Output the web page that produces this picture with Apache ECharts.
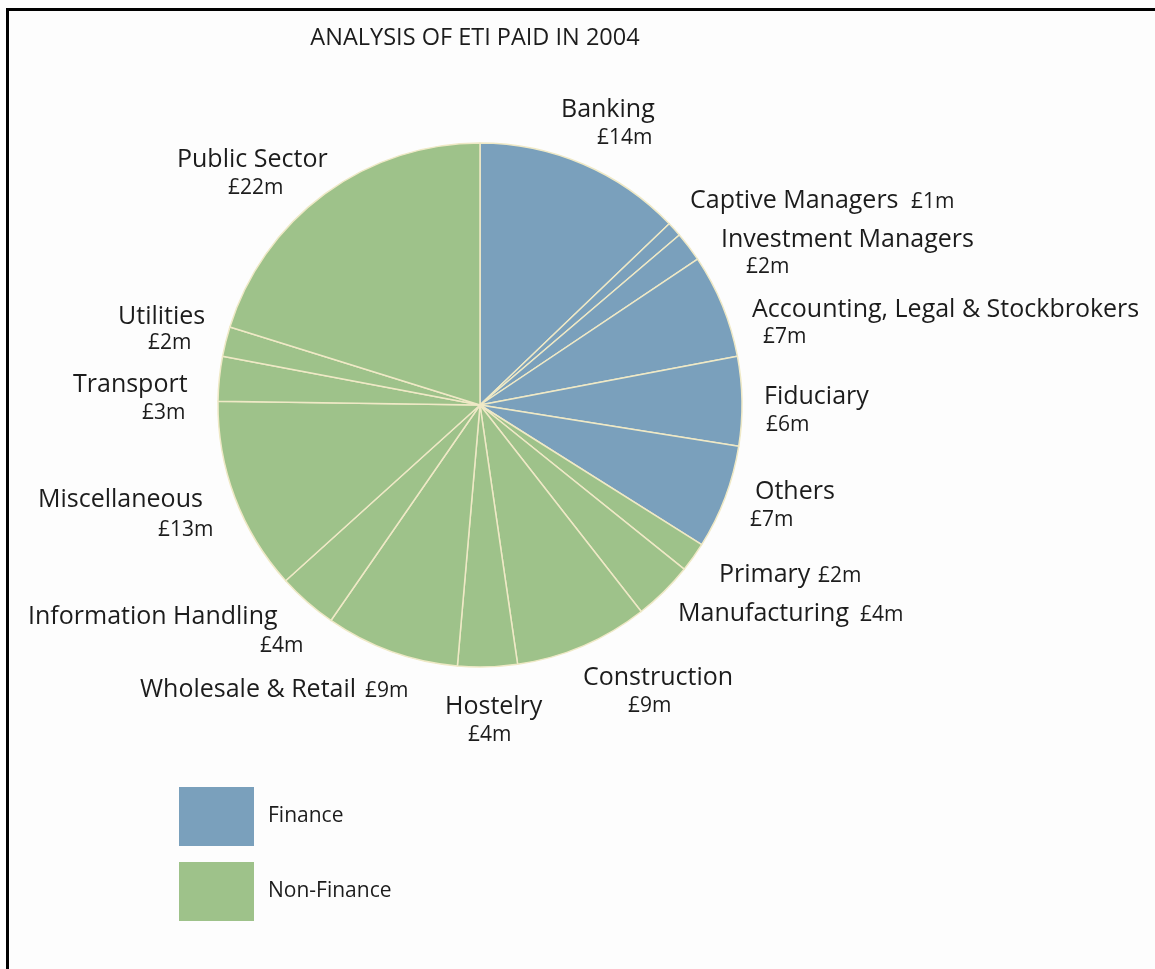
<!DOCTYPE html>
<html>
<head>
<meta charset="utf-8">
<style>
  html, body { margin: 0; padding: 0; background: #fdfdfd; }
  #chart { width: 1155px; height: 969px; }
</style>
<script src="https://cdn.jsdelivr.net/npm/echarts@6/dist/echarts.min.js"></script>
</head>
<body>
<div id="chart"></div>
<script>
// ETI paid in 2004, £ millions, clockwise from 12 o'clock
const sectors = [
  'Banking', 'Captive Managers', 'Investment Managers', 'Accounting, Legal & Stockbrokers',
  'Fiduciary', 'Others', 'Primary', 'Manufacturing', 'Construction', 'Hostelry',
  'Wholesale & Retail', 'Information Handling', 'Miscellaneous', 'Transport',
  'Utilities', 'Public Sector'
];
const amounts = [14, 1, 2, 7, 6, 7, 2, 4, 9, 4, 9, 4, 13, 3, 2, 22];
const groups = [
  'Finance', 'Finance', 'Finance', 'Finance', 'Finance', 'Finance',
  'Non-Finance', 'Non-Finance', 'Non-Finance', 'Non-Finance', 'Non-Finance',
  'Non-Finance', 'Non-Finance', 'Non-Finance', 'Non-Finance', 'Non-Finance'
];
const groupNames = ['Finance', 'Non-Finance'];

const groupColors = { 'Finance': '#7aa0bc', 'Non-Finance': '#9ec28a' };
const FONT = '"Open Sans", "Noto Sans", sans-serif';
const INK = '#1c1c1c';

// Hand-placed label anchors (left edge, vertical middle) for names and amounts
const nameAnchor = [
  [561, 110], [690, 201], [721, 240], [752, 310], [764, 397], [755, 492],
  [719, 575], [678, 614], [583, 678], [445, 707], [140, 690], [28, 617],
  [38, 500], [73, 385], [118, 317], [177, 160]
];
const amountAnchor = [
  [597, 138], [911, 202], [746, 267], [763, 337], [766, 425], [750, 520],
  [818, 576], [860, 615], [628, 706], [468, 735], [365, 691], [260, 646],
  [158, 530], [142, 413], [148, 343], [228, 188]
];

const pieData = sectors.map((s, i) => ({
  name: s,
  value: amounts[i],
  itemStyle: { color: groupColors[groups[i]] }
}));

const PIE_CENTER = [480, 405];
const PIE_RADIUS = 262;

const chart = echarts.init(document.getElementById('chart'), null, { renderer: 'canvas' });

chart.setOption({
  backgroundColor: '#fdfdfd',
  animation: false,
  title: {
    text: 'ANALYSIS OF ETI PAID IN 2004',
    left: 470, top: 33,
    textAlign: 'center', textVerticalAlign: 'middle',
    textStyle: { fontFamily: FONT, fontSize: 23.5, fontWeight: 'normal', color: INK }
  },
  legend: {
    data: groupNames,
    orient: 'vertical',
    left: 179, top: 787,
    padding: 0,
    itemWidth: 75, itemHeight: 59, itemGap: 16,
    icon: 'rect',
    selectedMode: false,
    textStyle: { fontFamily: FONT, fontSize: 21, color: INK, padding: [3, 0, 0, 9] }
  },
  graphic: [{
    type: 'polyline',
    silent: true,
    shape: { points: [[7.5, 969], [7.5, 9.5], [1155, 9.5]] },
    style: { stroke: '#000', lineWidth: 3, fill: null }
  }],
  series: [
    {
      // slices with sector names
      type: 'pie',
      name: 'ETI 2004',
      center: PIE_CENTER,
      radius: PIE_RADIUS,
      startAngle: 90,
      clockwise: true,
      avoidLabelOverlap: false,
      data: pieData,
      itemStyle: { borderColor: '#efe9c6', borderWidth: 1.5 },
      emphasis: { disabled: true },
      label: {
        show: true,
        position: 'outside',
        formatter: '{b}',
        fontFamily: FONT, fontSize: 25, color: INK
      },
      labelLine: { show: false },
      labelLayout: (p) => ({
        x: nameAnchor[p.dataIndex][0], y: nameAnchor[p.dataIndex][1],
        align: 'left', verticalAlign: 'middle'
      })
    },
    {
      // amount labels sharing the same angular layout
      type: 'pie',
      name: 'amounts',
      center: PIE_CENTER,
      radius: PIE_RADIUS,
      startAngle: 90,
      clockwise: true,
      silent: true,
      avoidLabelOverlap: false,
      data: pieData.map(d => ({ name: d.name, value: d.value })),
      itemStyle: { color: 'rgba(0,0,0,0)', borderWidth: 0 },
      emphasis: { disabled: true },
      label: {
        show: true,
        position: 'outside',
        formatter: '£{c}m',
        fontFamily: FONT, fontSize: 21, color: INK
      },
      labelLine: { show: false },
      labelLayout: (p) => ({
        x: amountAnchor[p.dataIndex][0], y: amountAnchor[p.dataIndex][1],
        align: 'left', verticalAlign: 'middle'
      })
    },
    // legend keys for the two groups
    { type: 'pie', name: 'Finance', data: [], showEmptyCircle: false, itemStyle: { color: groupColors['Finance'] } },
    { type: 'pie', name: 'Non-Finance', data: [], showEmptyCircle: false, itemStyle: { color: groupColors['Non-Finance'] } }
  ]
});
</script>
</body>
</html>
